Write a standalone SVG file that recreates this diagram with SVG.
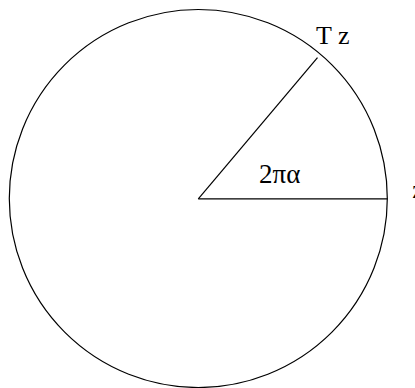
<svg xmlns="http://www.w3.org/2000/svg" width="415" height="388" viewBox="0 0 415 388">
<style>
.ln{fill:none;stroke:#000;stroke-width:1.2}
.t{font-family:"Liberation Serif","Times New Roman",serif;font-size:26px;fill:#000}
</style>
<rect width="415" height="388" fill="#fff"/>
<g id="circle"><circle class="ln" cx="198.3" cy="198.5" r="189"/></g>
<g id="connectors">
<line class="ln" x1="198.3" y1="198.8" x2="387.5" y2="198.8"/>
<line class="ln" x1="198.3" y1="198.8" x2="317.5" y2="57.6"/>
</g>
<g id="labels">
<text class="t" x="316" y="44">T z</text>
<text class="t" x="259" y="183" style="font-size:27px">2πα</text>
<text class="t" x="412.3" y="198">z</text>
</g>
</svg>
